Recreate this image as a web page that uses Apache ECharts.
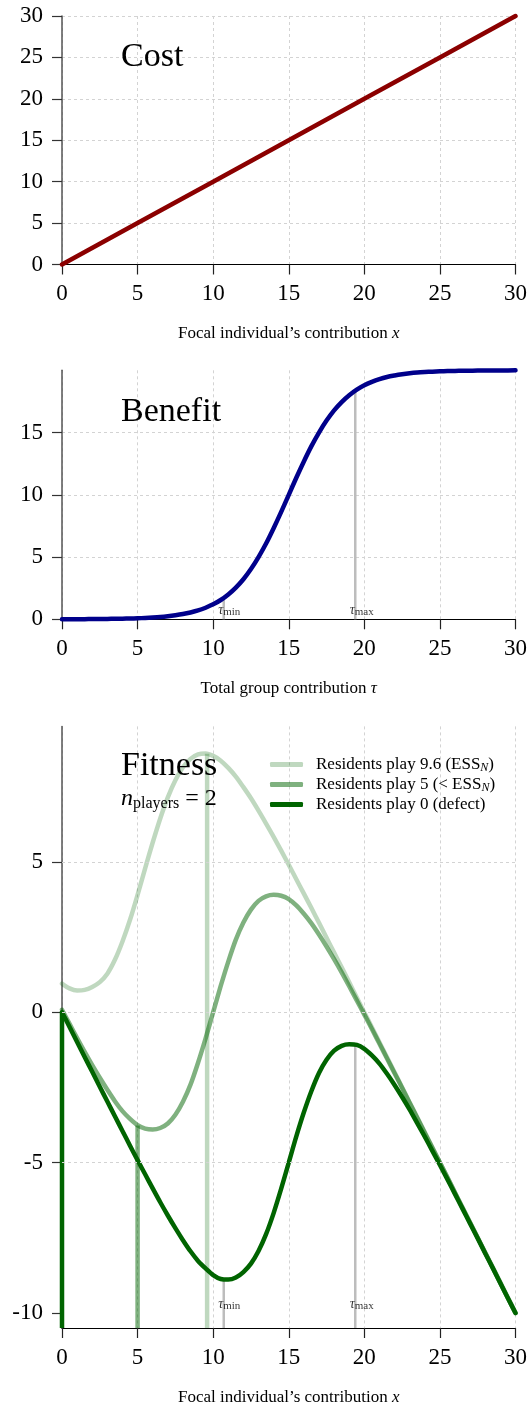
<!DOCTYPE html>
<html><head><meta charset="utf-8">
<script src="https://cdn.jsdelivr.net/npm/echarts@6/dist/echarts.min.js"></script>
<style>html,body{margin:0;padding:0;background:#fff}#c{width:530px;height:1407px}</style>
</head><body><div id="c"></div>
<script>
const costX = [0, 5, 10, 15, 20, 25, 30];
const costY = [0, 5, 10, 15, 20, 25, 30];
const halfSteps = [0,0.5,1,1.5,2,2.5,3,3.5,4,4.5,5,5.5,6,6.5,7,7.5,8,8.5,9,9.5,10,10.5,11,11.5,12,12.5,13,13.5,14,14.5,15,15.5,16,16.5,17,17.5,18,18.5,19,19.5,20,20.5,21,21.5,22,22.5,23,23.5,24,24.5,25,25.5,26,26.5,27,27.5,28,28.5,29,29.5,30];
const benefitY = [0.01,0.01,0.01,0.01,0.02,0.02,0.03,0.04,0.05,0.06,0.08,0.11,0.14,0.18,0.24,0.32,0.42,0.55,0.71,0.93,1.20,1.55,2.00,2.55,3.22,4.04,5.00,6.09,7.32,8.63,10.00,11.37,12.68,13.91,15.00,15.96,16.78,17.45,18.00,18.45,18.80,19.07,19.29,19.46,19.58,19.68,19.76,19.82,19.86,19.89,19.92,19.94,19.95,19.96,19.97,19.98,19.98,19.99,19.99,19.99,20.00];
const tauMarks = [10.7, 19.4];
const tauMarkNames = ['min', 'max'];
const benefitAtTauMarks = [1.72, 18.36];
const fit96 = [0.95,0.79,0.72,0.74,0.84,1.00,1.28,1.74,2.35,3.07,3.90,4.78,5.64,6.44,7.14,7.71,8.14,8.42,8.57,8.60,8.52,8.36,8.12,7.83,7.48,7.11,6.70,6.27,5.83,5.37,4.90,4.42,3.94,3.46,2.97,2.47,1.98,1.49,0.99,0.49,-0.01,-0.50,-1.00,-1.50,-2.00,-2.50,-3.00,-3.50,-4.00,-4.50,-5.00,-5.50,-6.00,-6.50,-7.00,-7.50,-8.00,-8.50,-9.00,-9.50,-10.00];
const fit5 = [0.08,-0.39,-0.86,-1.32,-1.76,-2.18,-2.58,-2.96,-3.29,-3.55,-3.76,-3.87,-3.90,-3.85,-3.70,-3.41,-2.98,-2.41,-1.68,-0.87,0.00,0.87,1.68,2.41,2.98,3.41,3.70,3.85,3.90,3.87,3.76,3.55,3.27,2.95,2.58,2.18,1.76,1.32,0.86,0.39,-0.08,-0.56,-1.05,-1.54,-2.03,-2.52,-3.02,-3.51,-4.01,-4.51,-5.00,-5.50,-6.00,-6.50,-7.00,-7.50,-8.00,-8.50,-9.00,-9.50,-10.00];
const fit0 = [0.00,-0.49,-0.99,-1.49,-1.98,-2.48,-2.97,-3.46,-3.95,-4.44,-4.92,-5.39,-5.86,-6.32,-6.76,-7.18,-7.58,-7.95,-8.27,-8.52,-8.74,-8.87,-8.89,-8.82,-8.64,-8.36,-7.94,-7.38,-6.68,-5.87,-5.00,-4.13,-3.33,-2.62,-2.02,-1.58,-1.28,-1.12,-1.07,-1.09,-1.22,-1.44,-1.71,-2.05,-2.42,-2.82,-3.24,-3.69,-4.14,-4.61,-5.08,-5.56,-6.05,-6.54,-7.03,-7.52,-8.02,-8.51,-9.01,-9.51,-10.00];
const residentPlays = [9.6, 5, 0];
const residentFitAtOwn = [8.59, -3.77, 0.00];
const fitAtTauMarks = [-8.88, -1.08];
const seriesNames = ['Residents play 9.6 (ESS_N)', 'Residents play 5 (< ESS_N)', 'Residents play 0 (defect)'];
const panel2YTicks = [0, 5, 10, 15];
const panel3YTicks = [-10, -5, 0, 5];
const panel3GridY = [-5, 0, 5];

const FF = '"Liberation Serif", "DejaVu Serif", serif';
const greens = ['rgba(0,100,0,0.25)', 'rgba(0,100,0,0.5)', 'rgb(0,100,0)'];
const fitData = [fit96, fit5, fit0].map(arr => halfSteps.map((x,i)=>[x, arr[i]]));

function xAxis(gi, name) {
  return {
    type: 'value', gridIndex: gi, min: 0, max: 30, interval: 5,
    axisLine: {show: true, onZero: false, lineStyle: {color: '#000', width: 1.2}},
    axisTick: {show: true, length: 10, lineStyle: {color: '#222', width: 1.2}},
    axisLabel: {fontFamily: FF, fontSize: 23, color: '#000', margin: 18, lineHeight: 23},
    splitLine: {show: true, lineStyle: {color: '#d3d3d3', type: [3, 3], width: 1}},
    name: name, nameLocation: 'middle', nameGap: 61,
    nameTextStyle: {fontFamily: FF, fontSize: 17, color: '#000', lineHeight: 17,
      rich: {i: {fontFamily: FF, fontSize: 17, fontStyle: 'italic', color: '#000', lineHeight: 17}}}
  };
}
function yAxisBase(gi) {
  return {
    type: 'value', gridIndex: gi,
    axisLine: {show: true, onZero: false, lineStyle: {color: '#555', width: 1.5}},
    axisTick: {show: true, length: 10, lineStyle: {color: '#333', width: 1.2}},
    axisLabel: {fontFamily: FF, fontSize: 23, color: '#000', margin: 19},
    splitLine: {show: true, lineStyle: {color: '#d3d3d3', type: [3, 3], width: 1}}
  };
}

const series = [];
// Panel 1: cost
series.push({type: 'line', xAxisIndex: 0, yAxisIndex: 0, data: costX.map((x,i)=>[x, costY[i]]),
  showSymbol: false, clip: false, color: '#8b0000', lineStyle: {color: '#8b0000', width: 4.5, cap: 'round'}, silent: true});
// Panel 2: tau marks and benefit
tauMarks.forEach((t, k) => {
  series.push({type: 'line', xAxisIndex: 1, yAxisIndex: 1, data: [[t, 0], [t, benefitAtTauMarks[k]]],
    showSymbol: false, clip: false, z: 1, lineStyle: {color: '#bdbdbd', width: 2.5, cap: 'butt'}, silent: true});
});
series.push({type: 'line', xAxisIndex: 1, yAxisIndex: 1, data: halfSteps.map((x,i)=>[x, benefitY[i]]), smooth: 0.3,
  showSymbol: false, clip: false, z: 3, color: '#00008b', lineStyle: {color: '#00008b', width: 4.5, cap: 'round', join: 'round'}, silent: true});
const tauLabel = {
  show: true, align: 'left', verticalAlign: 'bottom', color: '#000',
  formatter: p => '{t|τ}{s|' + p.data[2] + '}',
  rich: {t: {fontFamily: FF, fontSize: 14, fontStyle: 'italic', lineHeight: 15, color: '#000'},
         s: {fontFamily: FF, fontSize: 11, lineHeight: 11, verticalAlign: 'bottom', color: '#000'}}
};
series.push({type: 'scatter', xAxisIndex: 1, yAxisIndex: 1, symbolSize: 1, itemStyle: {color: 'rgba(0,0,0,0)'},
  data: tauMarks.map((t,k)=>[t, 0, tauMarkNames[k]]), z: 5, silent: true,
  label: Object.assign({}, tauLabel, {position: [-5, -1]})});

// Panel 3
series.push({type: 'line', xAxisIndex: 2, yAxisIndex: 2, data: [], silent: true, z: 0,
  markLine: {silent: true, symbol: 'none', label: {show: false}, animation: false,
    lineStyle: {color: '#d3d3d3', type: [3, 3], width: 1},
    data: panel3GridY.map(v => ({yAxis: v}))}});
residentPlays.forEach((r, k) => {
  series.push({type: 'line', xAxisIndex: 2, yAxisIndex: 2, data: [[r, -10.5], [r, residentFitAtOwn[k]]],
    showSymbol: false, clip: false, z: 2, lineStyle: {color: greens[k], width: 4.5, cap: 'butt'}, silent: true});
});
tauMarks.forEach((t, k) => {
  series.push({type: 'line', xAxisIndex: 2, yAxisIndex: 2, data: [[t, -10.5], [t, fitAtTauMarks[k]]],
    showSymbol: false, clip: false, z: 2, lineStyle: {color: '#bdbdbd', width: 2.5, cap: 'butt'}, silent: true});
});
seriesNames.forEach((nm, k) => {
  series.push({type: 'line', name: nm, xAxisIndex: 2, yAxisIndex: 2, data: fitData[k], smooth: 0.3,
    showSymbol: false, clip: false, z: 3, color: greens[k], itemStyle: {color: greens[k]},
    lineStyle: {color: greens[k], width: 4.5, cap: 'round', join: 'round'}, silent: true});
});
series.push({type: 'scatter', xAxisIndex: 2, yAxisIndex: 2, symbolSize: 1, itemStyle: {color: 'rgba(0,0,0,0)'},
  data: tauMarks.map((t,k)=>[t, -10.5, tauMarkNames[k]]), z: 5, silent: true,
  label: Object.assign({}, tauLabel, {position: [-5, -16]})});

const y0 = yAxisBase(0); Object.assign(y0, {min: 0, max: 30, interval: 5});
const y1 = yAxisBase(1); Object.assign(y1, {min: 0, max: 20, interval: 5});
y1.axisLabel = Object.assign({}, y1.axisLabel, {customValues: panel2YTicks});
y1.axisTick = Object.assign({}, y1.axisTick, {customValues: panel2YTicks});
const y2 = yAxisBase(2); Object.assign(y2, {min: -10.5, max: 9.5});
y2.axisLabel = Object.assign({}, y2.axisLabel, {customValues: panel3YTicks});
y2.axisTick = Object.assign({}, y2.axisTick, {customValues: panel3YTicks});
y2.splitLine = {show: false};

const chart = echarts.init(document.getElementById('c'), null, {renderer: 'canvas'});
chart.setOption({
  animation: false,
  backgroundColor: '#fff',
  grid: [
    {left: 62, top: 16, width: 454, height: 248.5},
    {left: 62, top: 370.3, width: 454, height: 249},
    {left: 62, top: 726.4, width: 454, height: 604}
  ],
  xAxis: [
    xAxis(0, 'Focal individual\u2019s contribution {i|x}'),
    xAxis(1, 'Total group contribution {i|τ}'),
    xAxis(2, 'Focal individual\u2019s contribution {i|x}')
  ],
  yAxis: [y0, y1, y2],
  legend: {
    data: seriesNames, orient: 'vertical', left: 270, top: 755, itemWidth: 33, itemHeight: 5, padding: 0,
    icon: 'roundRect', itemGap: 1, selectedMode: false,
    formatter: n => '{g| }' + n.replace('ESS_N', 'ESS{n|N}'),
    textStyle: {fontFamily: FF, fontSize: 17, color: '#000', lineHeight: 19,
      rich: {g: {width: 8, fontSize: 17, lineHeight: 19},
             n: {fontFamily: FF, fontSize: 12, fontStyle: 'italic', lineHeight: 12, verticalAlign: 'bottom', color: '#000'}}}
  },
  graphic: [
    {type: 'text', z: 100, x: 121, y: 57, style: {text: 'Cost', fontFamily: FF, fontSize: 34, fill: '#000', verticalAlign: 'middle'}},
    {type: 'text', z: 100, x: 121, y: 412.5, style: {text: 'Benefit', fontFamily: FF, fontSize: 34, fill: '#000', verticalAlign: 'middle'}},
    {type: 'text', z: 100, x: 121, y: 766.5, style: {text: 'Fitness', fontFamily: FF, fontSize: 34, fill: '#000', verticalAlign: 'middle'}},
    {type: 'text', z: 100, x: 121, y: 799, style: {text: '{n|n}{p|players}{r| = 2}', verticalAlign: 'middle', fill: '#000',
      rich: {n: {fontFamily: FF, fontSize: 24, fontStyle: 'italic', lineHeight: 26},
             p: {fontFamily: FF, fontSize: 16, lineHeight: 16, verticalAlign: 'bottom'},
             r: {fontFamily: FF, fontSize: 24, lineHeight: 26}}}}
  ],
  series: series
});
</script></body></html>
